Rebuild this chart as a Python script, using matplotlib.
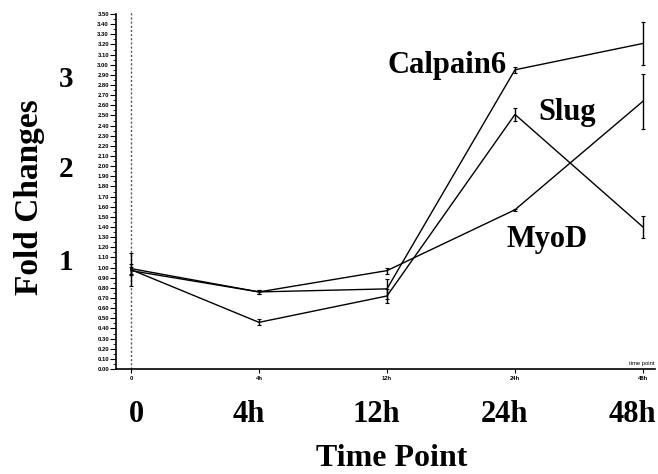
import numpy as np
import matplotlib
matplotlib.use('Agg')
import matplotlib.pyplot as plt
from matplotlib.ticker import MultipleLocator, FormatStrFormatter

# fold change of three genes over the time course
time_labels = ['0', '4h', '12h', '24h', '48h']
calpain6 = [0.97, 0.76, 0.79, 2.95, 3.21]
slug = [0.98, 0.46, 0.72, 2.51, 1.40]
myod = [0.99, 0.76, 0.97, 1.57, 2.64]
calpain6_err = [0.04, 0.02, 0.10, 0.03, 0.21]
slug_err = [0.16, 0.03, 0.07, 0.06, 0.11]
myod_err = [0.05, 0.02, 0.03, 0.01, 0.27]
gene_names = ['Calpain6', 'Slug', 'MyoD']
big_y_labels = ['1', '2', '3']

W, H = 658, 474
fig = plt.figure(figsize=(W / 100, H / 100), dpi=100)
ax = fig.add_axes([116 / W, 1 - 369 / H, 539 / W, 357 / H])

def px(x, y):
    # pixel position (from top-left) -> figure fraction
    return x / W, 1 - y / H

x_data = np.arange(len(time_labels))
for vals, err in [(calpain6, calpain6_err), (slug, slug_err), (myod, myod_err)]:
    ax.errorbar(x_data, vals, yerr=err, color='black', lw=1.0, elinewidth=1.0,
                capsize=1.5, capthick=0.8)

ax.axvline(0, color='#555555', ls=(0, (1.5, 1.5)), lw=1.0, zorder=0)

ax.set_xlim(-0.117, 4.094)
ax.set_ylim(0, 3.52)
ax.spines['top'].set_visible(False)
ax.spines['right'].set_visible(False)
ax.spines['left'].set_bounds(0, 3.5)
ax.spines['left'].set_linewidth(1.2)
ax.spines['bottom'].set_linewidth(1.2)

ax.yaxis.set_major_locator(MultipleLocator(0.1))
ax.yaxis.set_minor_locator(MultipleLocator(0.05))
ax.yaxis.set_major_formatter(FormatStrFormatter('%.2f'))
ax.tick_params(axis='y', which='major', length=4, width=0.8, labelsize=4.2, pad=1)
ax.tick_params(axis='y', which='minor', length=2, width=0.6)
ax.set_xticks(x_data)
ax.set_xticklabels(time_labels)
ax.tick_params(axis='x', length=3, width=0.8, labelsize=4.2, pad=2)
for lab in ax.get_xticklabels() + ax.get_yticklabels():
    lab.set_fontfamily('Liberation Sans')
    lab.set_fontweight('bold')

fig.text(*px(655, 366), 'time point', fontsize=4.2, family='Liberation Sans',
         ha='right', va='bottom')

serif = dict(family='Liberation Serif', fontweight='bold')

# big labels drawn by hand
fig.text(*px(30, 197), 'Fold Changes', fontsize=24, rotation=90,
         ha='center', va='center', **serif)
for lab, ypix in zip(big_y_labels, [270, 177, 87]):
    fig.text(*px(66, ypix), lab, fontsize=21, ha='center', va='baseline', **serif)
for i, lab in enumerate(time_labels):
    shift = 0.04 if i == 0 else -0.08
    ax.text(i + shift, -0.52, lab, fontsize=22, ha='center', va='baseline',
            clip_on=False, **serif)
fig.text(*px(392, 466), 'Time Point', fontsize=23, ha='center', va='baseline', **serif)

fig.text(*px(447, 73), gene_names[0], fontsize=22, ha='center', va='baseline', **serif)
fig.text(*px(567, 120), gene_names[1], fontsize=22, ha='center', va='baseline', **serif)
fig.text(*px(547, 247), gene_names[2], fontsize=22, ha='center', va='baseline', **serif)

fig.savefig('out.png', dpi=100)
